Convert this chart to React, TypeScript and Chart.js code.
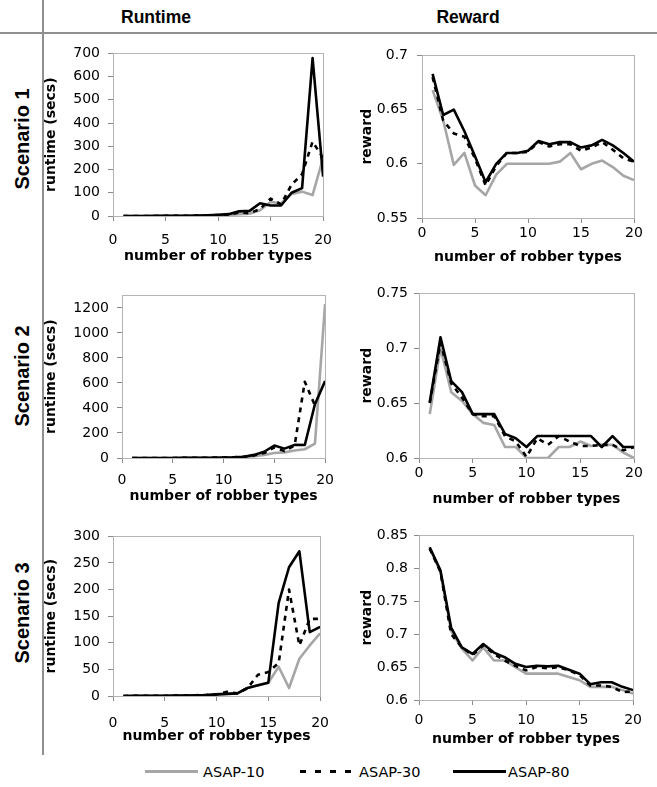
import React, { useEffect, useRef } from "react";
import { Chart, registerables } from "chart.js";

Chart.register(...registerables);

// ---------- data ----------
const robberTypes = [1, 2, 3, 4, 5, 6, 7, 8, 9, 10, 11, 12, 13, 14, 15, 16, 17, 18, 19, 20];
const xTickValues = [0, 5, 10, 15, 20];

const seriesNames = ["ASAP-10", "ASAP-30", "ASAP-80"];

// Scenario 1
const s1Runtime10 = [0.1, 0.1, 0.2, 0.3, 0.4, 0.6, 0.8, 1, 2, 3, 5, 8, 10, 25, 60, 55, 95, 105, 90, 250];
const s1Runtime30 = [0.1, 0.2, 0.2, 0.3, 0.5, 0.7, 1, 1.5, 2, 4, 6, 15, 12, 30, 75, 50, 135, 180, 320, 250];
const s1Runtime80 = [0.1, 0.2, 0.3, 0.4, 0.5, 0.8, 1, 1.5, 3, 5, 8, 20, 22, 55, 45, 45, 100, 120, 680, 170];
const s1Reward10 = [0.668, 0.64, 0.599, 0.61, 0.58, 0.571, 0.59, 0.6, 0.6, 0.6, 0.6, 0.6, 0.602, 0.61, 0.595, 0.6, 0.603, 0.597, 0.589, 0.585];
const s1Reward30 = [0.68, 0.64, 0.628, 0.625, 0.605, 0.58, 0.598, 0.61, 0.61, 0.611, 0.62, 0.616, 0.618, 0.618, 0.612, 0.615, 0.62, 0.613, 0.605, 0.602];
const s1Reward80 = [0.683, 0.645, 0.65, 0.63, 0.607, 0.583, 0.6, 0.61, 0.61, 0.612, 0.621, 0.618, 0.62, 0.62, 0.615, 0.617, 0.622, 0.617, 0.61, 0.602];

// Scenario 2
const s2Runtime10 = [0.1, 0.1, 0.2, 0.3, 0.4, 0.6, 0.8, 1, 2, 3, 5, 8, 15, 25, 40, 45, 60, 70, 115, 1230];
const s2Runtime30 = [0.1, 0.2, 0.3, 0.4, 0.5, 0.8, 1, 1.5, 3, 4, 6, 10, 20, 40, 85, 55, 100, 610, 420, null];
const s2Runtime80 = [0.1, 0.2, 0.3, 0.4, 0.5, 0.8, 1, 1.5, 2, 3, 5, 10, 25, 50, 100, 75, 105, 104, 430, 615];
const s2Reward10 = [0.64, 0.7, 0.66, 0.652, 0.64, 0.632, 0.63, 0.61, 0.61, 0.6, 0.6, 0.6, 0.61, 0.61, 0.615, 0.611, 0.612, 0.612, 0.605, 0.6];
const s2Reward30 = [0.65, 0.705, 0.668, 0.655, 0.64, 0.638, 0.638, 0.62, 0.615, 0.601, 0.618, 0.612, 0.62, 0.615, 0.611, 0.611, 0.612, 0.612, 0.607, 0.61];
const s2Reward80 = [0.651, 0.71, 0.67, 0.66, 0.64, 0.64, 0.64, 0.622, 0.618, 0.61, 0.62, 0.62, 0.62, 0.62, 0.62, 0.62, 0.61, 0.62, 0.61, 0.61];

// Scenario 3
const s3Runtime10 = [0.1, 0.2, 0.3, 0.4, 0.5, 0.7, 1, 1.5, 2, 3, 4, 5, 15, 20, 25, 55, 15, 70, 95, 118];
const s3Runtime30 = [0.1, 0.2, 0.3, 0.4, 0.5, 0.7, 1, 1.5, 2, 3, 8, 5, 15, 40, 45, 62, 200, 95, 145, 145];
const s3Runtime80 = [0.1, 0.2, 0.3, 0.4, 0.5, 0.7, 1, 1.5, 2, 3, 4, 5, 15, 20, 25, 175, 242, 272, 120, 130];
const s3Reward10 = [0.83, 0.795, 0.705, 0.678, 0.66, 0.68, 0.66, 0.66, 0.65, 0.64, 0.64, 0.64, 0.64, 0.635, 0.63, 0.62, 0.62, 0.62, 0.615, 0.61];
const s3Reward30 = [0.83, 0.795, 0.7, 0.68, 0.668, 0.683, 0.67, 0.66, 0.652, 0.645, 0.65, 0.648, 0.65, 0.645, 0.638, 0.622, 0.622, 0.62, 0.612, 0.613];
const s3Reward80 = [0.832, 0.797, 0.71, 0.68, 0.67, 0.685, 0.672, 0.665, 0.655, 0.65, 0.652, 0.651, 0.652, 0.646, 0.64, 0.624, 0.627, 0.627, 0.62, 0.615];

// tick labels
const runtimeTicks1 = [0, 100, 200, 300, 400, 500, 600, 700];
const runtimeTicks2 = [0, 200, 400, 600, 800, 1000, 1200];
const runtimeTicks3 = [0, 50, 100, 150, 200, 250, 300];
const rewardTicks1 = [0.55, 0.6, 0.65, 0.7];
const rewardTicks2 = [0.6, 0.65, 0.7, 0.75];
const rewardTicks3 = [0.6, 0.65, 0.7, 0.75, 0.8, 0.85];

const columnHeaders = ["Runtime", "Reward"];
const rowLabels = ["Scenario 1", "Scenario 2", "Scenario 3"];
const xAxisTitle = "number of robber types";
const runtimeTitle = "runtime (secs)";
const rewardTitle = "reward";

// ---------- styles ----------
const FONT = "'DejaVu Sans', Verdana, sans-serif";
const HEAD_FONT = "'Liberation Sans', Arial, Helvetica, sans-serif";
const GRAY = "#a6a6a6";
const BLACK = "#000000";
const PAD_TOP = 12;
const PAD_RIGHT = 14;

type Num = number | null;
type PanelSpec = {
  plot: [number, number, number, number];
  yTitleX: number;
  xTitleY: number;
  xTickPad: number;
  yTickPad: number;
  yMin: number;
  yMax: number;
  yTicks: number[];
  yTitle: string;
  series: Num[][];
};

const panels: PanelSpec[] = [
  { plot: [113, 49, 329, 216], yTitleX: 51, xTitleY: 257, xTickPad: 11, yTickPad: 8, yMin: 0, yMax: 700, yTicks: runtimeTicks1, yTitle: runtimeTitle, series: [s1Runtime10, s1Runtime30, s1Runtime80] },
  { plot: [422, 50, 634, 218], yTitleX: 367, xTitleY: 258, xTickPad: 2, yTickPad: 9, yMin: 0.55, yMax: 0.7, yTicks: rewardTicks1, yTitle: rewardTitle, series: [s1Reward10, s1Reward30, s1Reward80] },
  { plot: [122, 291, 329, 458], yTitleX: 51, xTitleY: 497, xTickPad: 9, yTickPad: 8, yMin: 0, yMax: 1300, yTicks: runtimeTicks2, yTitle: runtimeTitle, series: [s2Runtime10, s2Runtime30, s2Runtime80] },
  { plot: [419, 291, 634, 458], yTitleX: 367, xTitleY: 500, xTickPad: 2, yTickPad: 6, yMin: 0.6, yMax: 0.75, yTicks: rewardTicks2, yTitle: rewardTitle, series: [s2Reward10, s2Reward30, s2Reward80] },
  { plot: [113, 532, 329, 696], yTitleX: 51, xTitleY: 737, xTickPad: 14, yTickPad: 8, yMin: 0, yMax: 300, yTicks: runtimeTicks3, yTitle: runtimeTitle, series: [s3Runtime10, s3Runtime30, s3Runtime80] },
  { plot: [419, 533, 635, 700], yTitleX: 367, xTitleY: 740, xTickPad: 7, yTickPad: 6, yMin: 0.6, yMax: 0.85, yTicks: rewardTicks3, yTitle: rewardTitle, series: [s3Reward10, s3Reward30, s3Reward80] },
];

const seriesStyles = [
  { color: GRAY, dash: [] as number[], order: 3 },
  { color: BLACK, dash: [5, 5], order: 2 },
  { color: BLACK, dash: [] as number[], order: 1 },
];

const framePlugin = {
  id: "frame",
  beforeDatasetsDraw(chart: any) {
    const { ctx, chartArea } = chart;
    ctx.save();
    ctx.strokeStyle = "#b4b4b4";
    ctx.lineWidth = 1;
    ctx.strokeRect(
      Math.round(chartArea.left) + 0.5,
      Math.round(chartArea.top) + 0.5,
      Math.round(chartArea.right - chartArea.left),
      Math.round(chartArea.bottom - chartArea.top)
    );
    ctx.restore();
  },
};

function fmt(v: number) {
  return String(Math.round(v * 1000) / 1000);
}

function ChartPanel({ spec }: { spec: PanelSpec }) {
  const ref = useRef<HTMLCanvasElement>(null);
  const [l, t, r, b] = spec.plot;
  const cl = Math.round(spec.yTitleX - 8.4);
  const ct = t - PAD_TOP;
  const cr = r + PAD_RIGHT;
  const cb = Math.round(spec.xTitleY + 8.4);
  const w = cr - cl;
  const h = cb - ct;

  useEffect(() => {
    const canvas = ref.current;
    if (!canvas) return;
    const gridCfg = {
      display: true,
      drawOnChartArea: false,
      drawTicks: true,
      tickLength: 5,
      color: "#8a8a8a",
      lineWidth: 1,
    };
    const chart = new Chart(canvas, {
      type: "line",
      data: {
        datasets: spec.series.map((vals, i) => ({
          label: seriesNames[i],
          data: robberTypes.map((x, k) => ({ x, y: vals[k] })),
          borderColor: seriesStyles[i].color,
          backgroundColor: seriesStyles[i].color,
          borderDash: seriesStyles[i].dash,
          borderWidth: 2.6,
          order: seriesStyles[i].order,
          pointRadius: 0,
          tension: 0,
          fill: false,
          spanGaps: false,
          borderJoinStyle: "round" as const,
        })),
      },
      options: {
        responsive: false,
        animation: false,
        devicePixelRatio: 1,
        layout: { padding: { top: PAD_TOP, right: PAD_RIGHT, left: 0, bottom: 0 } },
        plugins: { legend: { display: false }, tooltip: { enabled: false } },
        scales: {
          x: {
            type: "linear",
            min: 0,
            max: 20,
            afterBuildTicks: (s: any) => {
              s.ticks = xTickValues.map((v) => ({ value: v }));
            },
            afterFit: (s: any) => {
              s.height = cb - b;
            },
            grid: gridCfg,
            border: { display: true, color: "#8a8a8a", width: 1 },
            ticks: {
              padding: spec.xTickPad,
              color: "#000",
              font: { family: FONT, size: 14 },
              maxRotation: 0,
              autoSkip: false,
              callback: (v: any) => fmt(Number(v)),
            },
            title: {
              display: true,
              text: xAxisTitle,
              color: "#000",
              font: { family: FONT, size: 14, weight: "bold" },
              padding: 0,
            },
          },
          y: {
            type: "linear",
            min: spec.yMin,
            max: spec.yMax,
            afterBuildTicks: (s: any) => {
              s.ticks = spec.yTicks.map((v) => ({ value: v }));
            },
            afterFit: (s: any) => {
              s.width = l - cl;
            },
            grid: gridCfg,
            border: { display: true, color: "#8a8a8a", width: 1 },
            ticks: {
              padding: spec.yTickPad,
              color: "#000",
              font: { family: FONT, size: 14 },
              autoSkip: false,
              callback: (v: any) => fmt(Number(v)),
            },
            title: {
              display: true,
              text: spec.yTitle,
              color: "#000",
              font: { family: FONT, size: 14, weight: "bold" },
              padding: 0,
            },
          },
        },
      } as any,
      plugins: [framePlugin],
    });
    return () => chart.destroy();
  }, []);

  return (
    <canvas
      ref={ref}
      width={w}
      height={h}
      style={{ position: "absolute", left: cl, top: ct, width: w, height: h }}
    />
  );
}

const legendItems = [
  { lineLeft: 145, lineWidth: 53, textLeft: 203, kind: "gray" },
  { lineLeft: 300, lineWidth: 58, textLeft: 359, kind: "dash" },
  { lineLeft: 453, lineWidth: 53, textLeft: 508, kind: "black" },
];

export default function App() {
  return (
    <div
      style={{
        position: "absolute",
        left: 0,
        top: 0,
        width: 657,
        height: 787,
        background: "#ffffff",
        overflow: "hidden",
      }}
    >
      {/* rules */}
      <div style={{ position: "absolute", left: 42, top: 0, width: 2, height: 755, background: "#8f8f8f" }} />
      <div style={{ position: "absolute", left: 0, top: 32, width: 657, height: 2, background: "#8f8f8f" }} />

      {/* column headers */}
      {columnHeaders.map((txt, i) => (
        <div
          key={txt}
          style={{
            position: "absolute",
            left: i === 0 ? 156 : 468,
            top: 18,
            transform: "translate(-50%, -50%)",
            fontFamily: HEAD_FONT,
            fontWeight: "bold",
            fontSize: 17.5,
            lineHeight: 1,
            whiteSpace: "nowrap",
            color: "#000",
          }}
        >
          {txt}
        </div>
      ))}

      {/* row labels */}
      {rowLabels.map((txt, i) => (
        <div
          key={txt}
          style={{
            position: "absolute",
            left: 22,
            top: [139, 376, 613][i],
            transform: "translate(-50%, -50%) rotate(-90deg)",
            fontFamily: HEAD_FONT,
            fontWeight: "bold",
            fontSize: 20,
            lineHeight: 1,
            whiteSpace: "nowrap",
            color: "#000",
          }}
        >
          {txt}
        </div>
      ))}

      {panels.map((p, i) => (
        <ChartPanel key={i} spec={p} />
      ))}

      {/* legend */}
      {legendItems.map((it, i) => (
        <React.Fragment key={i}>
          <div
            style={{
              position: "absolute",
              left: it.lineLeft,
              top: 770,
              width: it.lineWidth,
              height: 3,
              background:
                it.kind === "gray"
                  ? GRAY
                  : it.kind === "black"
                  ? BLACK
                  : "repeating-linear-gradient(to right, #000 0px, #000 6px, transparent 6px, transparent 15px)",
            }}
          />
          <div
            style={{
              position: "absolute",
              left: it.textLeft,
              top: 772,
              transform: "translateY(-50%)",
              fontFamily: FONT,
              fontSize: 14.5,
              lineHeight: 1,
              whiteSpace: "nowrap",
              color: "#000",
            }}
          >
            {seriesNames[i]}
          </div>
        </React.Fragment>
      ))}
    </div>
  );
}
